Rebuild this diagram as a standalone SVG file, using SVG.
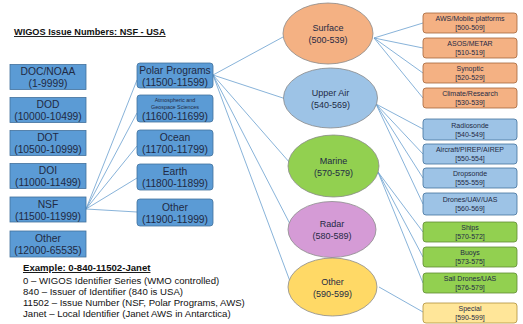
<svg xmlns="http://www.w3.org/2000/svg" width="523" height="324" viewBox="0 0 523 324">
<style>
text{font-family:"Liberation Sans",Arial,sans-serif;fill:#1f2a44;text-anchor:middle}
.lb{fill:#5b9bd5;stroke:#41719c;stroke-width:0.8}
.t11{font-size:10.3px}
.t9{font-size:9px}
.t7{font-size:7px}
.el{stroke:#8a8a8a;stroke-width:0.8}
.ro{fill:#f4b183;stroke:#a5663a;stroke-width:0.8}
.rb{fill:#9dc3e6;stroke:#41719c;stroke-width:0.8}
.rg{fill:#92d050;stroke:#5f8a33;stroke-width:0.8}
.ry{fill:#ffe699;stroke:#b08f3a;stroke-width:0.8}
.ex{font-size:9.6px;text-anchor:start;fill:#111}
#connectors line{stroke:#6a9fcf;stroke-width:0.8}
</style>
<rect width="523" height="324" fill="#fff"/>
<text x="14" y="35" style="font-size:9.2px;font-weight:bold;text-anchor:start;text-decoration:underline;fill:#111">WIGOS Issue Numbers: NSF - USA</text>

<g id="connectors">
<line x1="86" y1="209" x2="137" y2="80"/>
<line x1="86" y1="209" x2="137" y2="113"/>
<line x1="86" y1="209" x2="137" y2="146"/>
<line x1="86" y1="209" x2="137" y2="178"/>
<line x1="86" y1="209" x2="137" y2="212"/>
<line x1="213" y1="75" x2="283" y2="37"/>
<line x1="213" y1="75" x2="286" y2="99"/>
<line x1="213" y1="75" x2="290" y2="163"/>
<line x1="213" y1="75" x2="290" y2="224"/>
<line x1="213" y1="75" x2="291" y2="284"/>
<line x1="374" y1="38" x2="423" y2="23"/>
<line x1="374" y1="38" x2="423" y2="48"/>
<line x1="374" y1="38" x2="423" y2="73"/>
<line x1="374" y1="38" x2="423" y2="98"/>
<line x1="376" y1="104" x2="423" y2="129"/>
<line x1="376" y1="104" x2="423" y2="154"/>
<line x1="376" y1="104" x2="423" y2="178"/>
<line x1="376" y1="104" x2="423" y2="204"/>
<line x1="378" y1="172" x2="423" y2="232"/>
<line x1="378" y1="172" x2="423" y2="257"/>
<line x1="378" y1="172" x2="423" y2="283"/>
<line x1="379" y1="287" x2="423" y2="312"/>
</g>

<g id="doc"><rect class="lb" x="10" y="64.5" width="76" height="25"/><text class="t11" x="48" y="75">DOC/NOAA</text><text class="t11" x="48" y="87">(1-9999)</text></g>
<g id="dod"><rect class="lb" x="10" y="97.5" width="76" height="25"/><text class="t11" x="48" y="108">DOD</text><text class="t11" x="48" y="120">(10000-10499)</text></g>
<g id="dot"><rect class="lb" x="10" y="130.5" width="76" height="25"/><text class="t11" x="48" y="141">DOT</text><text class="t11" x="48" y="153">(10500-10999)</text></g>
<g id="doi"><rect class="lb" x="10" y="163.5" width="76" height="25"/><text class="t11" x="48" y="174">DOI</text><text class="t11" x="48" y="186">(11000-11499)</text></g>
<g id="nsf"><rect class="lb" x="10" y="197" width="76" height="25"/><text class="t11" x="48" y="207.5">NSF</text><text class="t11" x="48" y="219.5">(11500-11999)</text></g>
<g id="other-agency"><rect class="lb" x="10" y="231" width="76" height="26"/><text class="t11" x="48" y="242">Other</text><text class="t11" x="48" y="254">(12000-65535)</text></g>

<g id="polar"><rect class="lb" x="137" y="63" width="76" height="25" rx="3"/><text class="t11" x="175" y="73.5">Polar Programs</text><text class="t11" x="175" y="85.5">(11500-11599)</text></g>
<g id="ags"><rect class="lb" x="137" y="95" width="76" height="27" rx="3"/><text x="175" y="101.5" style="font-size:5.4px">Atmospheric and</text><text x="175" y="108.5" style="font-size:5.4px">Geospace Sciences</text><text class="t11" x="175" y="119.5">(11600-11699)</text></g>
<g id="ocean"><rect class="lb" x="137" y="130" width="76" height="26" rx="3"/><text class="t11" x="175" y="141">Ocean</text><text class="t11" x="175" y="153">(11700-11799)</text></g>
<g id="earth"><rect class="lb" x="137" y="164" width="76" height="26" rx="3"/><text class="t11" x="175" y="175">Earth</text><text class="t11" x="175" y="187">(11800-11899)</text></g>
<g id="other-nsf"><rect class="lb" x="137" y="199" width="76" height="27" rx="3"/><text class="t11" x="175" y="210.5">Other</text><text class="t11" x="175" y="222.5">(11900-11999)</text></g>

<g id="surface"><ellipse class="el" cx="328" cy="33.5" rx="45" ry="30.5" fill="#f4b183"/><text class="t9" x="328" y="31">Surface</text><text class="t9" x="328" y="43">(500-539)</text></g>
<g id="upperair"><ellipse class="el" cx="330.5" cy="98" rx="47" ry="30" fill="#9dc3e6"/><text class="t9" x="330.5" y="96">Upper Air</text><text class="t9" x="330.5" y="108">(540-569)</text></g>
<g id="marine"><ellipse class="el" cx="333.5" cy="166" rx="45.5" ry="31" fill="#92d050"/><text class="t9" x="333.5" y="164">Marine</text><text class="t9" x="333.5" y="176">(570-579)</text></g>
<g id="radar"><ellipse class="el" cx="332" cy="229.5" rx="44" ry="28" fill="#d59bd6"/><text class="t9" x="332" y="227">Radar</text><text class="t9" x="332" y="239">(580-589)</text></g>
<g id="other-type"><ellipse class="el" cx="332.5" cy="287" rx="44.5" ry="29" fill="#ffd966"/><text class="t9" x="332.5" y="285">Other</text><text class="t9" x="332.5" y="297">(590-599)</text></g>

<g id="aws"><rect class="ro" x="423" y="13" width="94" height="20" rx="3"/><text class="t7" x="470" y="21">AWS/Mobile platforms</text><text class="t7" x="470" y="30">[500-509]</text></g>
<g id="asos"><rect class="ro" x="423" y="38" width="94" height="20" rx="3"/><text class="t7" x="470" y="46">ASOS/METAR</text><text class="t7" x="470" y="55">[510-519]</text></g>
<g id="synoptic"><rect class="ro" x="423" y="63" width="94" height="20" rx="3"/><text class="t7" x="470" y="71">Synoptic</text><text class="t7" x="470" y="80">[520-529]</text></g>
<g id="climate"><rect class="ro" x="423" y="88" width="94" height="20" rx="3"/><text class="t7" x="470" y="96">Climate/Research</text><text class="t7" x="470" y="105">[530-539]</text></g>
<g id="radiosonde"><rect class="rb" x="423" y="119" width="94" height="21" rx="3"/><text class="t7" x="470" y="127.5">Radiosonde</text><text class="t7" x="470" y="136.5">[540-549]</text></g>
<g id="aircraft"><rect class="rb" x="423" y="144" width="94" height="20" rx="3"/><text class="t7" x="470" y="152">Aircraft/PIREP/AIREP</text><text class="t7" x="470" y="161">[550-554]</text></g>
<g id="dropsonde"><rect class="rb" x="423" y="168" width="94" height="20" rx="3"/><text class="t7" x="470" y="176">Dropsonde</text><text class="t7" x="470" y="185">[555-559]</text></g>
<g id="drones"><rect class="rb" x="423" y="193" width="94" height="22" rx="3"/><text class="t7" x="470" y="202">Drones/UAV/UAS</text><text class="t7" x="470" y="211">[560-569]</text></g>
<g id="ships"><rect class="rg" x="423" y="222" width="94" height="20" rx="3"/><text class="t7" x="470" y="230">Ships</text><text class="t7" x="470" y="239">[570-572]</text></g>
<g id="buoys"><rect class="rg" x="423" y="247" width="94" height="20" rx="3"/><text class="t7" x="470" y="255">Buoys</text><text class="t7" x="470" y="264">[573-575]</text></g>
<g id="saildrones"><rect class="rg" x="423" y="273" width="94" height="20" rx="3"/><text class="t7" x="470" y="281">Sail Drones/UAS</text><text class="t7" x="470" y="290">[576-579]</text></g>
<g id="special"><rect class="ry" x="423" y="303" width="94" height="20" rx="3"/><text class="t7" x="470" y="311">Special</text><text class="t7" x="470" y="320">[590-599]</text></g>

<g id="example">
<text x="23" y="271" class="ex" style="font-weight:bold;text-decoration:underline">Example: 0-840-11502-Janet</text>
<text x="23" y="284" class="ex">0 – WIGOS Identifier Series (WMO controlled)</text>
<text x="23" y="294.5" class="ex">840 – Issuer of Identifier (840 is USA)</text>
<text x="23" y="305.5" class="ex">11502 – Issue Number (NSF, Polar Programs, AWS)</text>
<text x="23" y="317" class="ex">Janet – Local Identifier (Janet AWS in Antarctica)</text>
</g>
</svg>
